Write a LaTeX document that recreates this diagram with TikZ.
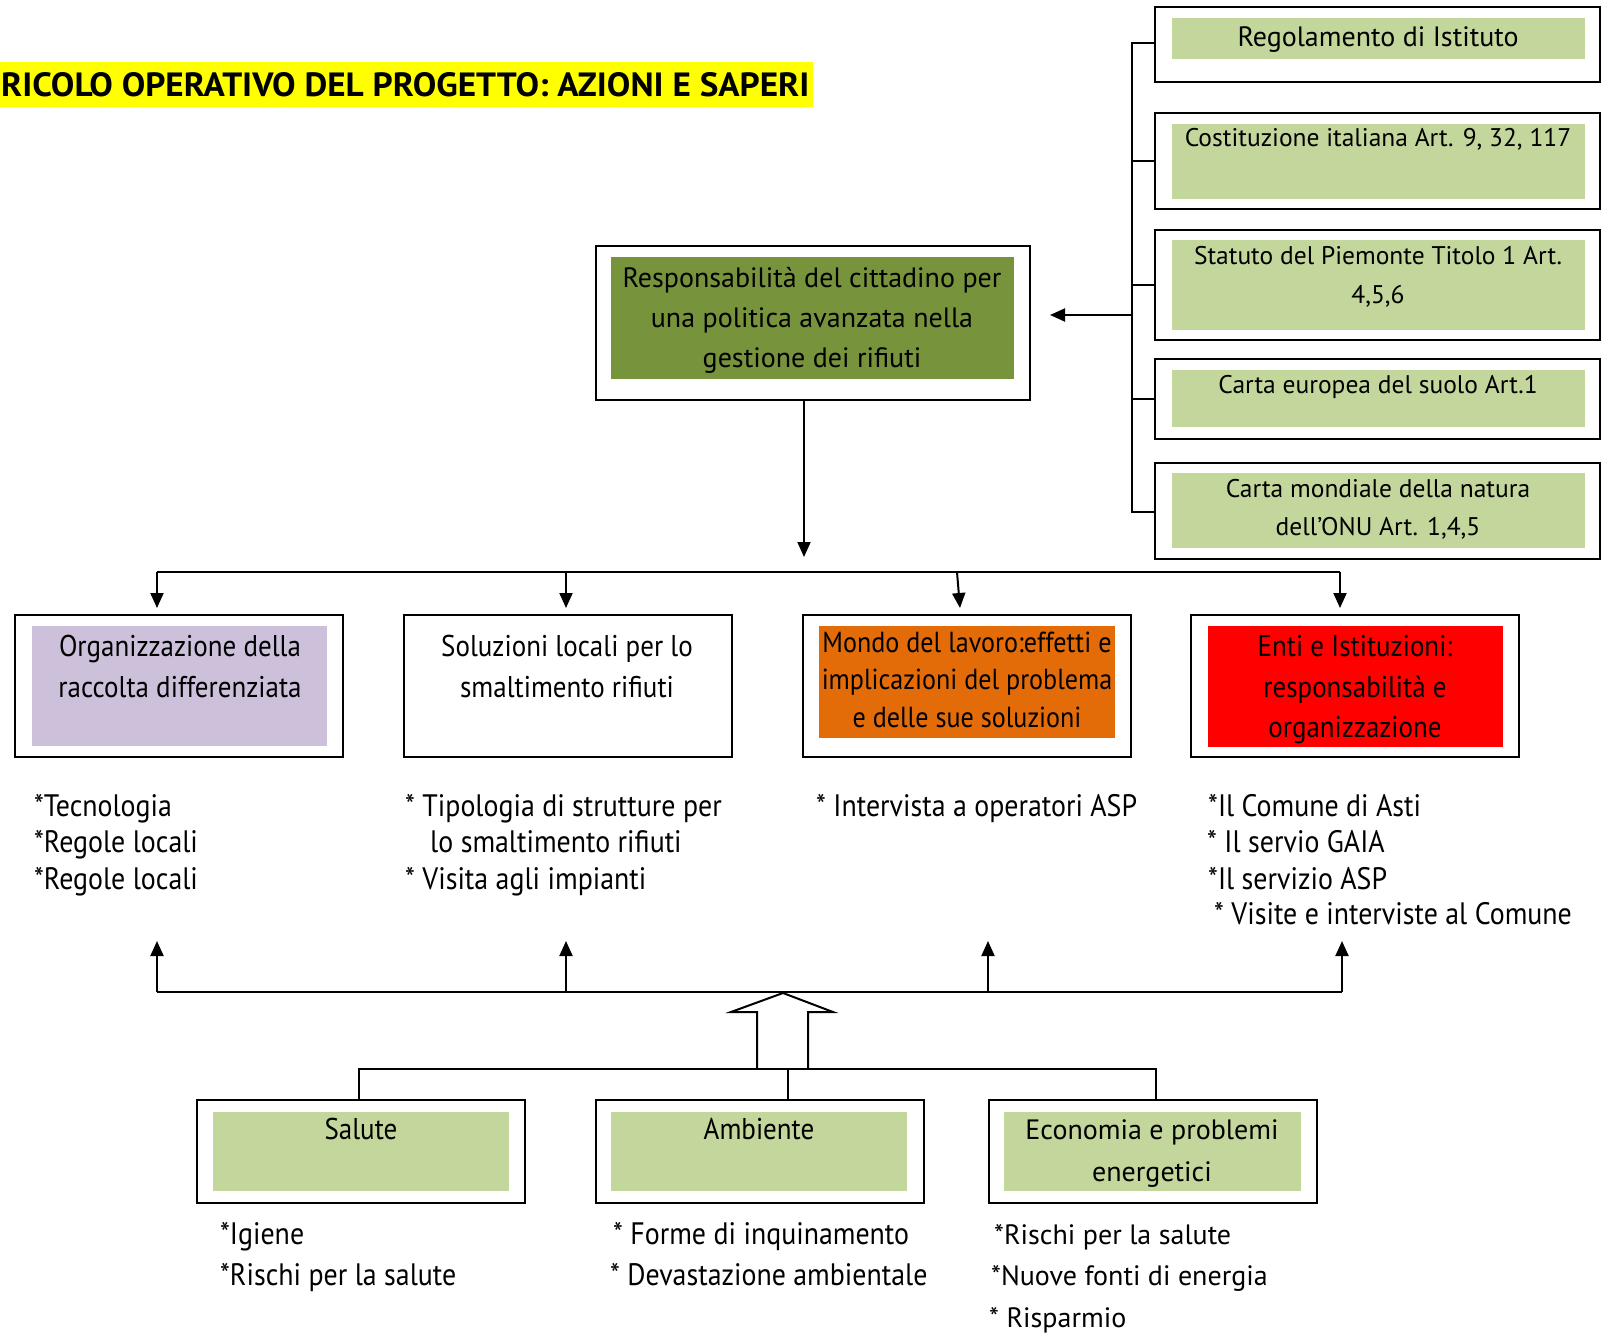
\documentclass[tikz,border=0pt]{standalone}
\usepackage{fontspec}
\setmainfont{PT Sans}
\newfontfamily\cnd{PT Sans}[FakeStretch=0.9]
\usetikzlibrary{arrows.meta,fit}
\definecolor{lgreen}{HTML}{C3D69B}
\definecolor{dgreen}{HTML}{77933C}
\definecolor{lav}{HTML}{CCC0DA}
\definecolor{orng}{HTML}{E36C09}
\definecolor{rred}{HTML}{FF0000}
\definecolor{yel}{HTML}{FFFF00}
\tikzset{
  obox/.style={draw=black, line width=2pt, inner sep=0pt},
  ibox/.style={fill=#1, inner sep=0pt},
  txt/.style={font=\fontsize{28}{40}\selectfont, anchor=base, inner sep=0pt},
  rtxt/.style={font=\fontsize{25.5}{40}\selectfont, anchor=base, inner sep=0pt},
  ctxt/.style={font=\cnd\fontsize{30}{40}\selectfont, anchor=base, inner sep=0pt},
  rlst/.style={font=\fontsize{28}{40}\selectfont, anchor=base west, inner sep=0pt},
  clst/.style={font=\cnd\fontsize{31}{40}\selectfont, anchor=base west, inner sep=0pt},
  conn/.style={line width=2pt},
  arr/.style={line width=2pt, -{Triangle[length=15pt,width=13pt]}},
}
\begin{document}
\begin{tikzpicture}[x=1pt,y=-1pt]
\useasboundingbox[fill=white] (0,0) rectangle (1602,1332);
% title
\node[fill=yel, inner sep=0pt, fit={(0,62)(813,107)}] (titlebg) {};
\node[anchor=base west, inner sep=0pt] (title) at (1,97) {\resizebox{808pt}{24pt}{\bfseries RICOLO OPERATIVO DEL PROGETTO: AZIONI E SAPERI}};
% right column
\node[obox, fit={(1155,7)(1600,82)}] (r1) {};
\node[ibox=lgreen, fit={(1172,18)(1585,59)}] (r1i) {};
\node[txt] (r1t) at (1378,47) {Regolamento di Istituto};
\node[obox, fit={(1155,113)(1600,209)}] (r2) {};
\node[ibox=lgreen, fit={(1172,124)(1585,199)}] (r2i) {};
\node[rtxt] (r2t) at (1378,147) {Costituzione italiana Art. 9, 32, 117};
\node[obox, fit={(1155,230)(1600,340)}] (r3) {};
\node[ibox=lgreen, fit={(1172,240)(1585,330)}] (r3i) {};
\node[rtxt] (r3t) at (1378,265) {Statuto del Piemonte Titolo 1 Art.};
\node[rtxt] (r3u) at (1378,303) {4,5,6};
\node[obox, fit={(1155,359)(1600,439)}] (r4) {};
\node[ibox=lgreen, fit={(1172,370)(1585,427)}] (r4i) {};
\node[rtxt] (r4t) at (1378,393) {Carta europea del suolo Art.1};
\node[obox, fit={(1155,463)(1600,559)}] (r5) {};
\node[ibox=lgreen, fit={(1172,473)(1585,548)}] (r5i) {};
\node[rtxt] (r5t) at (1378,497) {Carta mondiale della natura};
\node[rtxt] (r5u) at (1378,535) {dell’ONU Art. 1,4,5};
% bracket
\coordinate (brT) at (1132,43);
\coordinate (brB) at (1132,512);
\coordinate (brM) at (1132,315);
\coordinate (respTip) at (1050,315);
\draw[conn] (r1.west |- brT) -- (brT) -- (brB) -- (r5.west |- brB);
\draw[conn] (brT |- r2.west) -- (r2.west);
\draw[conn] (brT |- r3.west) -- (r3.west);
\draw[conn] (brT |- r4.west) -- (r4.west);
\draw[arr] (brM) -- (respTip);
% central box
\node[obox, fit={(596,246)(1030,400)}] (resp) {};
\node[ibox=dgreen, fit={(611,257)(1014,379)}] (respi) {};
\node[txt] (respt1) at (812,287) {Responsabilità del cittadino per};
\node[txt] (respt2) at (812,327) {una politica avanzata nella};
\node[txt] (respt3) at (812,367) {gestione dei rifiuti};
\coordinate (rd) at (804,557);
\draw[arr] (resp.south -| rd) -- (rd);
% distribution line
\coordinate (dl) at (157,572);
\coordinate (dr) at (1340,572);
\coordinate (db) at (566,572);
\coordinate (dc) at (957,572);
\coordinate (ta) at (157,608);
\coordinate (tb) at (566,608);
\coordinate (tc) at (960,608);
\coordinate (td) at (1340,608);
\draw[conn] (dl) -- (dr);
\draw[arr] (dl) -- (ta);
\draw[arr] (db) -- (tb);
\draw[arr] (dc) -- (tc);
\draw[arr] (dr) -- (td);
% row 2 boxes
\node[obox, fit={(15,615)(343,757)}] (ba) {};
\node[ibox=lav, fit={(32,626)(327,746)}] (bai) {};
\node[ctxt] (bat1) at (180,656) {Organizzazione della};
\node[ctxt] (bat2) at (180,697) {raccolta differenziata};
\node[obox, fit={(404,615)(732,757)}] (bb) {};
\node[ctxt] (bbt1) at (567,656) {Soluzioni locali per lo};
\node[ctxt] (bbt2) at (567,697) {smaltimento rifiuti};
\node[obox, fit={(803,615)(1131,757)}] (bc) {};
\node[ibox=orng, fit={(819,626)(1115,738)}] (bci) {};
\node[ctxt, font=\cnd\fontsize{29}{40}\selectfont] (bct1) at (967,652) {Mondo del lavoro:effetti e};
\node[ctxt, font=\cnd\fontsize{29}{40}\selectfont] (bct2) at (967,689) {implicazioni del problema};
\node[ctxt, font=\cnd\fontsize{29}{40}\selectfont] (bct3) at (967,727) {e delle sue soluzioni};
\node[obox, fit={(1191,615)(1519,757)}] (bd) {};
\node[ibox=rred, fit={(1208,626)(1503,747)}] (bdi) {};
\node[ctxt] (bdt1) at (1355,656) {Enti e Istituzioni:};
\node[ctxt] (bdt2) at (1355,697) {responsabilità e};
\node[ctxt] (bdt3) at (1355,737) {organizzazione};
% lists row 2
\node[clst] (la1) at (34,816) {*Tecnologia};
\node[clst] (la2) at (34,852) {*Regole locali};
\node[clst] (la3) at (34,889) {*Regole locali};
\node[clst] (lb1) at (405,816) {* Tipologia di strutture per};
\node[clst] (lb2) at (430,852) {lo smaltimento rifiuti};
\node[clst] (lb3) at (405,889) {* Visita agli impianti};
\node[clst] (lc1) at (816,816) {* Intervista a operatori ASP};
\node[clst] (ld1) at (1208,816) {*Il Comune di Asti};
\node[clst] (ld2) at (1207,852) {* Il servio GAIA};
\node[clst] (ld3) at (1208,889) {*Il servizio ASP};
\node[clst] (ld4) at (1214,924) {* Visite e interviste al Comune};
% upward arrows
\coordinate (ul) at (157,992);
\coordinate (ub) at (566,992);
\coordinate (uc) at (988,992);
\coordinate (ur) at (1342,992);
\coordinate (ua) at (157,941);
\coordinate (ubt) at (566,941);
\coordinate (uct) at (988,941);
\coordinate (udt) at (1342,941);
\draw[conn] (ul) -- (ur);
\draw[arr] (ul) -- (ua);
\draw[arr] (ub) -- (ubt);
\draw[arr] (uc) -- (uct);
\draw[arr] (ur) -- (udt);
% hollow arrow
\draw[conn, fill=white, line join=miter] (757,1069) -- (757,1012) -- (731,1012) -- (783,993) -- (833,1012) -- (808,1012) -- (808,1069);
% bottom boxes
\node[obox, fit={(197,1100)(525,1203)}] (sal) {};
\node[ibox=lgreen, fit={(213,1112)(509,1191)}] (sali) {};
\node[ctxt] (salt) at (361,1139) {Salute};
\node[obox, fit={(596,1100)(924,1203)}] (amb) {};
\node[ibox=lgreen, fit={(611,1112)(907,1191)}] (ambi) {};
\node[ctxt] (ambt) at (759,1139) {Ambiente};
\node[obox, fit={(989,1100)(1317,1203)}] (eco) {};
\node[ibox=lgreen, fit={(1004,1112)(1301,1191)}] (ecoi) {};
\node[txt] (ecot1) at (1152,1139) {Economia e problemi};
\node[txt] (ecot2) at (1152,1181) {energetici};
% bottom connector
\coordinate (bl) at (359,1069);
\coordinate (bm) at (788,1069);
\coordinate (br) at (1156,1069);
\draw[conn] (bl |- sal.north) -- (bl) -- (br) -- (br |- eco.north);
\draw[conn] (bm) -- (bm |- amb.north);
% bottom lists
\node[clst] (ls1) at (220,1244) {*Igiene};
\node[clst] (ls2) at (220,1285) {*Rischi per la salute};
\node[clst] (lm1) at (613,1244) {* Forme di inquinamento};
\node[clst] (lm2) at (610,1285) {* Devastazione ambientale};
\node[rlst] (le1) at (994,1244) {*Rischi per la salute};
\node[rlst] (le2) at (991,1285) {*Nuove fonti di energia};
\node[rlst] (le3) at (989,1327) {* Risparmio};
\end{tikzpicture}
\end{document}
